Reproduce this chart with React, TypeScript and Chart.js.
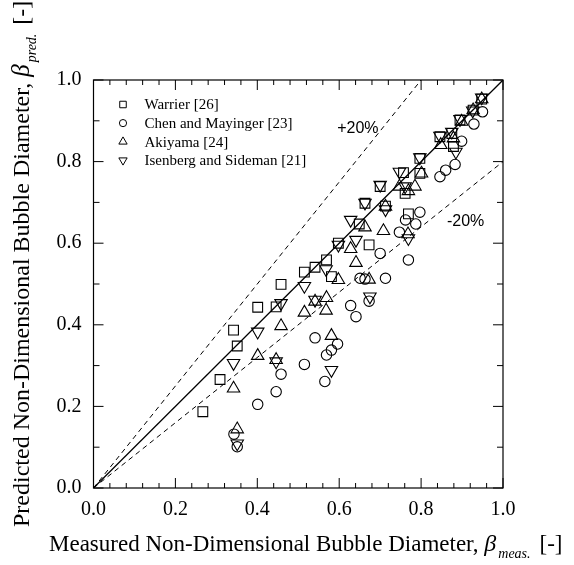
import React, { useEffect, useRef } from 'react';
import { Chart, registerables } from 'chart.js';
import { drawPoint } from 'chart.js/helpers';

Chart.register(...registerables);

// ---- Data ----
const warrierX = [0.267, 0.309, 0.342, 0.351, 0.401, 0.446, 0.458, 0.515, 0.541, 0.569, 0.581, 0.598, 0.649, 0.663, 0.673, 0.700, 0.713, 0.769, 0.761, 0.757, 0.797, 0.797, 0.846, 0.875, 0.879, 0.895, 0.927, 0.948];
const warrierY = [0.187, 0.266, 0.387, 0.348, 0.443, 0.444, 0.499, 0.529, 0.541, 0.559, 0.518, 0.600, 0.647, 0.698, 0.596, 0.739, 0.691, 0.672, 0.722, 0.773, 0.771, 0.808, 0.861, 0.869, 0.837, 0.902, 0.926, 0.953];

const chenX = [0.343, 0.351, 0.401, 0.446, 0.458, 0.515, 0.541, 0.565, 0.569, 0.581, 0.596, 0.628, 0.641, 0.651, 0.663, 0.673, 0.700, 0.713, 0.747, 0.762, 0.769, 0.787, 0.797, 0.846, 0.860, 0.883, 0.899, 0.929, 0.950];
const chenY = [0.132, 0.101, 0.205, 0.236, 0.279, 0.303, 0.368, 0.261, 0.326, 0.338, 0.353, 0.447, 0.420, 0.514, 0.512, 0.458, 0.575, 0.514, 0.627, 0.657, 0.559, 0.647, 0.676, 0.763, 0.779, 0.793, 0.850, 0.892, 0.922];

const akiyamaX = [0.342, 0.351, 0.401, 0.446, 0.458, 0.515, 0.541, 0.568, 0.569, 0.581, 0.598, 0.628, 0.641, 0.663, 0.673, 0.708, 0.713, 0.747, 0.769, 0.785, 0.801, 0.848, 0.879, 0.899, 0.927, 0.948, 0.768];
const akiyamaY = [0.244, 0.144, 0.324, 0.314, 0.397, 0.430, 0.457, 0.435, 0.466, 0.373, 0.510, 0.586, 0.552, 0.639, 0.511, 0.630, 0.690, 0.739, 0.728, 0.739, 0.771, 0.841, 0.857, 0.898, 0.926, 0.953, 0.622];

const isenbergX = [0.342, 0.351, 0.401, 0.446, 0.458, 0.515, 0.541, 0.568, 0.581, 0.598, 0.628, 0.641, 0.663, 0.675, 0.700, 0.713, 0.747, 0.761, 0.769, 0.797, 0.846, 0.875, 0.885, 0.895, 0.926, 0.948];
const isenbergY = [0.306, 0.109, 0.383, 0.310, 0.453, 0.495, 0.461, 0.536, 0.289, 0.596, 0.657, 0.608, 0.699, 0.469, 0.743, 0.683, 0.775, 0.739, 0.612, 0.810, 0.863, 0.873, 0.824, 0.904, 0.925, 0.957];

const seriesLabels = ['Warrier [26]', 'Chen and Mayinger [23]', 'Akiyama [24]', 'Isenberg and Sideman [21]'];

// reference lines: perfect agreement, +20 %, -20 %
const perfectX = [0, 1];
const perfectY = [0, 1];
const plusX = [0, 0.8];
const plusY = [0, 1];
const minusX = [0, 1];
const minusY = [0, 0.8];

const axisLabels = ['0.0', '0.2', '0.4', '0.6', '0.8', '1.0'];
const xTickMarks = [0, 0.04, 0.08, 0.12, 0.16, 0.2, 0.24, 0.28, 0.32, 0.36, 0.4, 0.44, 0.48, 0.52, 0.56, 0.6, 0.64, 0.68, 0.72, 0.76, 0.8, 0.84, 0.88, 0.92, 0.96, 1.0];
const yTickMarks = [0, 0.1, 0.2, 0.3, 0.4, 0.5, 0.6, 0.7, 0.8, 0.9, 1.0];

const SERIF = '"Liberation Serif", "Times New Roman", serif';
const SANS = '"Liberation Sans", Arial, sans-serif';

const zip = (xs: number[], ys: number[]) => xs.map((x, i) => ({ x, y: ys[i] }));

function isMajor(v: number) {
  const r = Math.round(v * 100) % 20;
  return r === 0;
}

const decorPlugin = {
  id: 'decor',
  afterDraw(chart: any) {
    const ctx: CanvasRenderingContext2D = chart.ctx;
    const { left, right, top, bottom } = chart.chartArea;
    const xs = chart.scales.x;
    const ys = chart.scales.y;
    ctx.save();
    ctx.strokeStyle = '#000';
    ctx.lineWidth = 1.2;
    ctx.strokeRect(left, top, right - left, bottom - top);
    ctx.lineWidth = 1;
    ctx.beginPath();
    xTickMarks.forEach((v) => {
      const px = xs.getPixelForValue(v);
      const len = isMajor(v) ? 10 : 5;
      ctx.moveTo(px, bottom);
      ctx.lineTo(px, bottom - len);
      ctx.moveTo(px, top);
      ctx.lineTo(px, top + len);
    });
    yTickMarks.forEach((v) => {
      const py = ys.getPixelForValue(v);
      const len = isMajor(v) ? 10 : 6;
      ctx.moveTo(left, py);
      ctx.lineTo(left + len, py);
      ctx.moveTo(right, py);
      ctx.lineTo(right - len, py);
    });
    ctx.stroke();

    // legend
    const styles = chart.data.datasets.slice(0, 4);
    const sizes = [4.6, 3.6, 4.8, 4.8];
    ctx.font = '15px ' + SERIF;
    ctx.fillStyle = '#000';
    ctx.textBaseline = 'middle';
    ctx.textAlign = 'left';
    styles.forEach((ds: any, i: number) => {
      const y = top + 24.5 + i * 18.6;
      const mx = left + 29.5;
      ctx.strokeStyle = '#000';
      ctx.fillStyle = 'rgba(0,0,0,0)';
      ctx.lineWidth = 1;
      drawPoint(ctx, {
        pointStyle: ds.pointStyle,
        rotation: ds.rotation || 0,
        radius: sizes[i],
        borderWidth: 1,
      } as any, mx, y);
      ctx.fillStyle = '#000';
      ctx.fillText(ds.label, left + 51, y + 1);
    });

    // band annotations
    ctx.font = '16px ' + SANS;
    ctx.textBaseline = 'middle';
    ctx.fillText('+20%', xs.getPixelForValue(0.595), ys.getPixelForValue(0.882));
    ctx.fillText('-20%', xs.getPixelForValue(0.863), ys.getPixelForValue(0.652));

    // axis titles with subscripts
    const drawTitle = (main: string, sub: string, size: number) => {
      let x = 0;
      ctx.textBaseline = 'alphabetic';
      ctx.textAlign = 'left';
      ctx.font = size + 'px ' + SERIF;
      ctx.fillText(main, x, 0);
      x += ctx.measureText(main).width;
      ctx.font = 'italic ' + (size + 1) + 'px ' + SERIF;
      ctx.fillText('\u03B2', x, 0);
      x += ctx.measureText('\u03B2').width + 2;
      ctx.font = 'italic 14px ' + SERIF;
      ctx.fillText(sub, x, 7);
      x += ctx.measureText(sub).width;
      ctx.font = size + 'px ' + SERIF;
      ctx.fillText('[-]', x + 9, 0);
    };
    ctx.save();
    ctx.translate(49, 551);
    drawTitle('Measured Non-Dimensional Bubble Diameter, ', 'meas.', 23);
    ctx.restore();
    ctx.save();
    ctx.translate(29, 527);
    ctx.rotate(-Math.PI / 2);
    drawTitle('Predicted Non-Dimensional Bubble Diameter, ', 'pred.', 24);
    ctx.restore();
    ctx.restore();
  },
};

export default function App() {
  const ref = useRef<HTMLCanvasElement | null>(null);
  useEffect(() => {
    if (!ref.current) return;
    const marker = { showLine: false, backgroundColor: 'rgba(0,0,0,0)', borderColor: '#000', borderWidth: 1.1 };
    const chart = new Chart(ref.current, {
      type: 'scatter',
      data: {
        datasets: [
          { ...marker, label: seriesLabels[0], data: zip(warrierX, warrierY), pointStyle: 'rect', pointRadius: 6.9 },
          { ...marker, label: seriesLabels[1], data: zip(chenX, chenY), pointStyle: 'circle', pointRadius: 5.2 },
          { ...marker, label: seriesLabels[2], data: zip(akiyamaX, akiyamaY), pointStyle: 'triangle', pointRadius: 7.2 },
          { ...marker, label: seriesLabels[3], data: zip(isenbergX, isenbergY), pointStyle: 'triangle', rotation: 180, pointRadius: 7.2 },
          { label: 'perfect', data: zip(perfectX, perfectY), showLine: true, borderColor: '#000', borderWidth: 1.3, pointRadius: 0 },
          { label: 'plus', data: zip(plusX, plusY), showLine: true, borderColor: '#000', borderWidth: 1, borderDash: [5, 4], pointRadius: 0 },
          { label: 'minus', data: zip(minusX, minusY), showLine: true, borderColor: '#000', borderWidth: 1, borderDash: [5, 4], pointRadius: 0 },
        ] as any,
      },
      options: {
        animation: false,
        responsive: false,
        devicePixelRatio: 1,
        layout: { padding: { left: 0, top: 80, right: 71, bottom: 0 } },
        plugins: { legend: { display: false }, tooltip: { enabled: false } },
        scales: {
          x: {
            type: 'linear', min: 0, max: 1,
            grid: { display: false, drawTicks: false },
            border: { display: false },
            afterFit: (s: any) => { s.height = 77; },
            ticks: {
              stepSize: 0.2, padding: 10, color: '#000', maxRotation: 0,
              font: { family: SERIF, size: 20 },
              callback: (v: any, i: number) => axisLabels[i],
            },
          },
          y: {
            type: 'linear', min: 0, max: 1,
            grid: { display: false, drawTicks: false },
            border: { display: false },
            afterFit: (s: any) => { s.width = 93.5; },
            ticks: {
              stepSize: 0.2, padding: 12, color: '#000',
              font: { family: SERIF, size: 20 },
              callback: (v: any, i: number) => axisLabels[i],
            },
          },
        },
      } as any,
      plugins: [decorPlugin],
    });
    return () => chart.destroy();
  }, []);
  return (
    <div style={{ position: 'fixed', left: 0, top: 0, width: 574, height: 565, background: '#fff' }}>
      <canvas ref={ref} width={574} height={565} style={{ display: 'block' }} />
    </div>
  );
}
